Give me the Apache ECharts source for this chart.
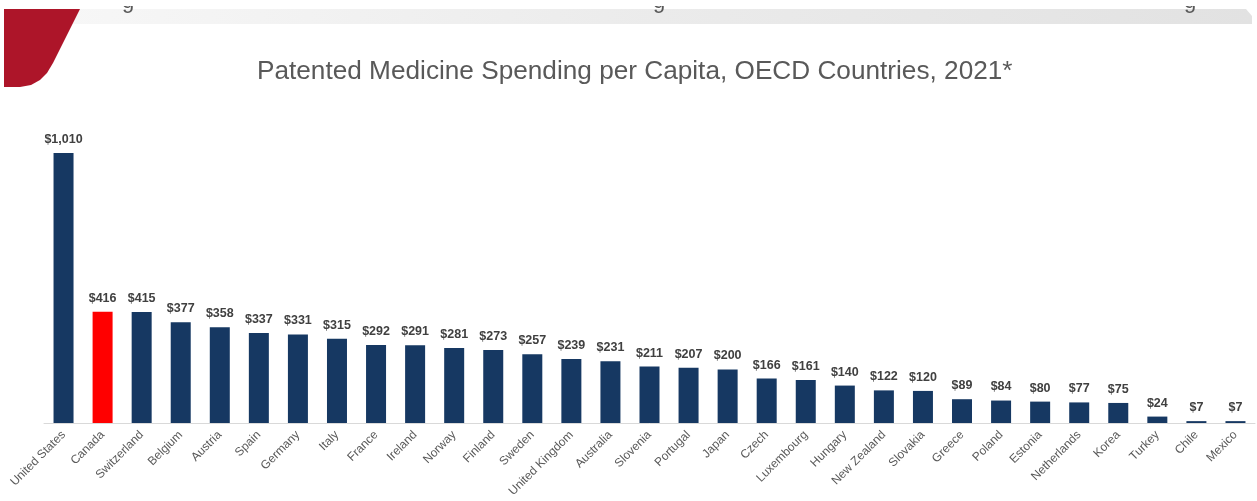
<!DOCTYPE html>
<html>
<head>
<meta charset="utf-8">
<title>Patented Medicine Spending per Capita</title>
<script src="https://cdn.jsdelivr.net/npm/echarts@6/dist/echarts.min.js"></script>
<style>
  html, body { margin: 0; padding: 0; background: #ffffff; }
  #chart { width: 1257px; height: 501px; }
</style>
</head>
<body>
<div id="chart"></div>
<script>
// Patented medicine spending per capita (USD), OECD countries, 2021
const countries = [
  'United States', 'Canada', 'Switzerland', 'Belgium', 'Austria', 'Spain',
  'Germany', 'Italy', 'France', 'Ireland', 'Norway', 'Finland', 'Sweden',
  'United Kingdom', 'Australia', 'Slovenia', 'Portugal', 'Japan', 'Czech',
  'Luxembourg', 'Hungary', 'New Zealand', 'Slovakia', 'Greece', 'Poland',
  'Estonia', 'Netherlands', 'Korea', 'Turkey', 'Chile', 'Mexico'
];
const spending = [
  1010, 416, 415, 377, 358, 337,
  331, 315, 292, 291, 281, 273, 257,
  239, 231, 211, 207, 200, 166,
  161, 140, 122, 120, 89, 84,
  80, 77, 75, 24, 7, 7
];
const highlightCountry = 'Canada';

const barColor = '#163862';
const highlightColor = '#ff0000';
const baseFont = '"Liberation Sans", Arial, sans-serif';
const headerFont = '22px "Liberation Sans", Arial, sans-serif';

const chart = echarts.init(document.getElementById('chart'), null, { renderer: 'canvas' });

const barData = spending.map((v, i) => ({
  value: v,
  itemStyle: { color: countries[i] === highlightCountry ? highlightColor : barColor }
}));

chart.setOption({
  animation: false,
  backgroundColor: '#ffffff',
  graphic: [
    // header strip
    {
      type: 'polygon',
      z: 1,
      shape: { points: [[60, 9], [1246, 9], [1252, 16], [1252, 24], [60, 24]] },
      style: {
        fill: new echarts.graphic.LinearGradient(0, 0, 1, 0, [
          { offset: 0, color: '#f7f7f7' },
          { offset: 0.5, color: '#ebebeb' },
          { offset: 1, color: '#e2e2e2' }
        ])
      }
    },
    { type: 'text', z: 2, x: 122, y: -9, style: { text: 'g', font: headerFont, fill: '#595959' } },
    { type: 'text', z: 2, x: 653, y: -9, style: { text: 'g', font: headerFont, fill: '#595959' } },
    { type: 'text', z: 2, x: 1184, y: -9, style: { text: 'g', font: headerFont, fill: '#595959' } },
    { type: 'rect', z: 3, shape: { x: 0, y: 0, width: 1257, height: 6 }, style: { fill: '#ffffff' } },
    // corner emblem
    {
      type: 'polygon',
      z: 4,
      shape: {
        points: [[4, 9], [80, 9], [77, 15], [53, 63], [47, 73], [40, 80], [31, 85], [20, 87], [4, 87]]
      },
      style: { fill: '#ad1529' }
    }
  ],
  title: {
    text: 'Patented Medicine Spending per Capita, OECD Countries, 2021*',
    left: 252,
    top: 54,
    textStyle: {
      fontFamily: baseFont,
      fontSize: 26.2,
      fontWeight: 'normal',
      color: '#595959'
    }
  },
  grid: { left: 44, right: 2, top: 153, bottom: 78, containLabel: false, outerBoundsMode: 'none' },
  xAxis: {
    type: 'category',
    data: countries,
    axisLine: { lineStyle: { color: '#d9d9d9', width: 1 } },
    axisTick: { show: false },
    axisLabel: {
      interval: 0,
      rotate: 45,
      margin: 10,
      fontFamily: baseFont,
      fontSize: 12,
      color: '#595959'
    }
  },
  yAxis: {
    type: 'value',
    min: 0,
    max: 1010,
    show: false,
    splitLine: { show: false }
  },
  series: [{
    type: 'bar',
    data: barData,
    barWidth: 20,
    label: {
      show: true,
      position: 'top',
      distance: 7,
      fontFamily: baseFont,
      fontSize: 12.5,
      fontWeight: 'bold',
      color: '#404040',
      formatter: p => '$' + p.value.toLocaleString('en-US')
    }
  }]
});
</script>
</body>
</html>
